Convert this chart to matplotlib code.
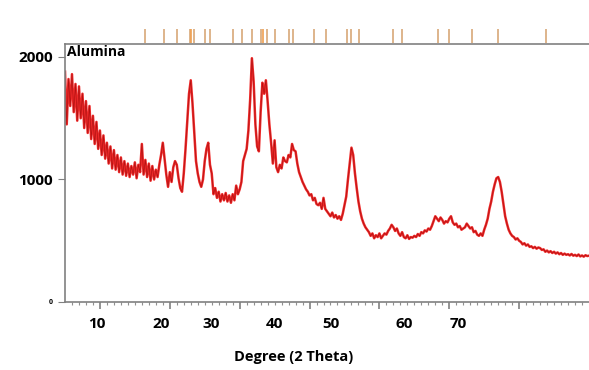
import numpy as np
import matplotlib
matplotlib.use("Agg")
import matplotlib.pyplot as plt
import matplotlib.transforms as mtransforms

# XRD pattern of alumina, 4 readings per degree from 5 to 80 degrees
intensity = [
    1880, 1450, 1820, 1600,   # 5
    1860, 1550, 1780, 1480,   # 6
    1760, 1500, 1700, 1420,   # 7
    1640, 1380, 1600, 1330,   # 8
    1520, 1290, 1470, 1250,   # 9
    1400, 1200, 1360, 1170,   # 10
    1300, 1130, 1270, 1090,   # 11
    1240, 1080, 1200, 1060,   # 12
    1180, 1040, 1150, 1030,   # 13
    1130, 1020, 1110, 1040,   # 14
    1140, 1010, 1120, 1060,   # 15
    1290, 1040, 1160, 1020,   # 16
    1130, 990, 1110, 1000,    # 17
    1080, 1020, 1120, 1200,   # 18
    1300, 1170, 1040, 940,    # 19
    1060, 980, 1100, 1150,    # 20
    1120, 1010, 930, 900,     # 21
    1050, 1250, 1480, 1700,   # 22
    1810, 1620, 1380, 1150,   # 23
    1050, 980, 940, 1000,     # 24
    1150, 1250, 1300, 1120,   # 25
    1050, 880, 930, 850,      # 26
    900, 820, 880, 830,       # 27
    890, 820, 870, 810,       # 28
    880, 830, 950, 880,       # 29
    920, 980, 1150, 1200,     # 30
    1250, 1400, 1650, 1990,   # 31
    1800, 1450, 1270, 1230,   # 32
    1550, 1790, 1700, 1810,   # 33
    1640, 1450, 1300, 1130,   # 34
    1320, 1100, 1060, 1120,   # 35
    1090, 1180, 1150, 1140,   # 36
    1200, 1180, 1290, 1240,   # 37
    1230, 1130, 1060, 1020,   # 38
    980, 950, 920, 900,       # 39
    870, 880, 830, 850,       # 40
    800, 790, 810, 760,       # 41
    850, 760, 740, 720,       # 42
    700, 730, 690, 710,       # 43
    680, 700, 670, 720,       # 44
    790, 860, 1000, 1130,     # 45
    1260, 1200, 1050, 930,    # 46
    820, 740, 680, 640,       # 47
    610, 590, 570, 540,       # 48
    560, 520, 545, 530,       # 49
    560, 520, 540, 560,       # 50
    550, 580, 600, 630,       # 51
    610, 580, 600, 560,       # 52
    540, 570, 530, 520,       # 53
    545, 515, 530, 525,       # 54
    540, 530, 555, 540,       # 55
    570, 560, 585, 575,       # 56
    600, 590, 620, 660,       # 57
    700, 680, 660, 690,       # 58
    670, 640, 660, 650,       # 59
    680, 700, 650, 630,       # 60
    640, 610, 620, 590,       # 61
    600, 610, 640, 620,       # 62
    600, 610, 570, 580,       # 63
    550, 540, 560, 540,       # 64
    590, 630, 680, 760,       # 65
    820, 900, 960, 1010,      # 66
    1020, 980, 900, 800,      # 67
    700, 640, 590, 560,       # 68
    540, 530, 510, 520,       # 69
    500, 490, 470, 480,       # 70
    460, 470, 450, 455,       # 71
    440, 450, 435, 445,       # 72
    440, 425, 430, 410,       # 73
    420, 405, 415, 400,       # 74
    410, 395, 405, 390,       # 75
    400, 385, 395, 385,       # 76
    390, 380, 392, 378,       # 77
    385, 375, 388, 372,       # 78
    380, 370, 382, 375,       # 79
    378,
]
two_theta = np.linspace(5, 80, len(intensity))

# reference pattern lines shown above the plot
ref_peaks = [16.4, 19.1, 21.1, 22.9, 23.1, 23.4, 25.1, 25.7, 29.0, 30.4,
             31.7, 33.1, 33.4, 33.9, 35.0, 37.1, 37.7, 40.7, 42.4, 45.4,
             46.0, 47.1, 51.9, 53.3, 58.4, 60.0, 63.3, 67.0, 73.9]
ref_strong = [23.1, 33.4]

xtick_text = ["10", "20", "30", "40", "50", "60", "70"]
xtick_text_pos = [9.6, 18.7, 25.9, 35.0, 43.1, 53.6, 61.3]

fig = plt.figure(figsize=(5.89, 3.70), dpi=100)
ax = fig.add_axes([65 / 589, 1 - 302 / 370, 1 - 65 / 589, 258 / 370])

ax.plot(two_theta, intensity, color="#ee2a2a", lw=1.8)
ax.plot(two_theta, intensity, color="#8a0000", lw=0.5, alpha=0.6)

ax.set_xlim(5, 80)
ax.set_ylim(0, 2106)

for s in ["left", "bottom", "top"]:
    ax.spines[s].set_color("#808080")
    ax.spines[s].set_linewidth(1.2)
ax.spines["right"].set_visible(False)

ax.set_yticks([0, 1000, 2000])
ax.set_yticklabels(["0", "1000", "2000"], fontfamily="Open Sans", fontweight="bold", fontsize=11)
ax.get_yticklabels()[0].set_fontsize(5)
ax.tick_params(axis="y", colors="#808080", length=5, labelcolor="black")

ax.set_xticks([10, 20, 30, 40, 50, 60, 70])
ax.set_xticks(np.arange(6, 80, 1), minor=True)
ax.set_xticklabels([])
ax.tick_params(axis="x", which="major", colors="#808080", length=5, width=1.2)
ax.tick_params(axis="x", which="minor", colors="#909090", length=2.5, width=0.8)

xtrans = mtransforms.blended_transform_factory(ax.transData, ax.transAxes)
for lab, pos in zip(xtick_text, xtick_text_pos):
    ax.text(pos, -0.085, lab, transform=xtrans, ha="center", va="center",
            fontfamily="Open Sans", fontweight="bold", fontsize=11)

fig.text(294 / 589, 1 - 357 / 370, "Degree (2 Theta)", ha="center", va="center",
         fontfamily="Open Sans", fontweight="bold", fontsize=10.5)

ax.text(0.004, 0.995, "Alumina", transform=ax.transAxes, ha="left", va="top",
        fontfamily="Open Sans", fontweight="bold", fontsize=10)

for p in ref_peaks:
    c = "#f0a050" if p in ref_strong else "#d8a878"
    ax.vlines(p, 1.004, 1.058, transform=xtrans, color=c, lw=1.2, clip_on=False)

fig.savefig("out.png", dpi=100)
